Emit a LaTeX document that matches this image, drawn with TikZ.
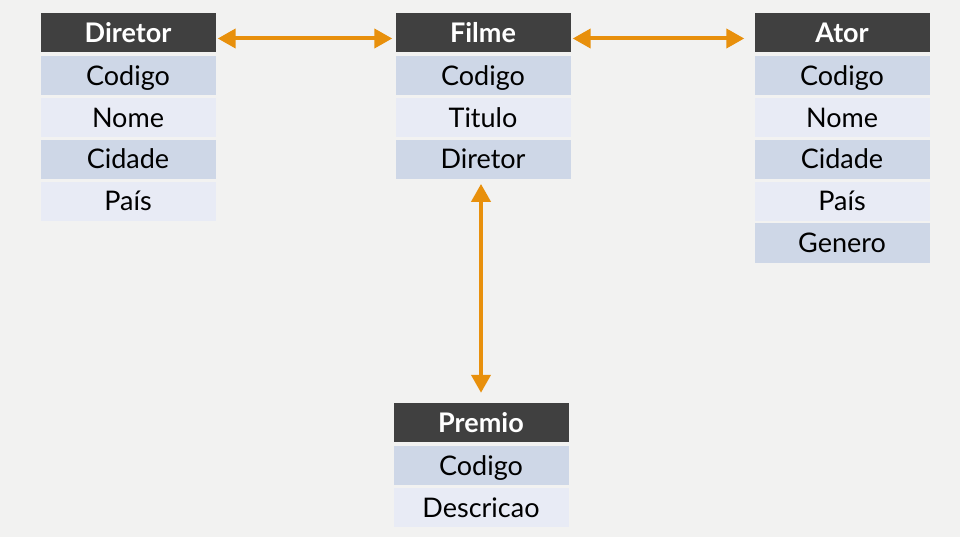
\documentclass[tikz,border=0pt]{standalone}
\usepackage{fontspec}
\setmainfont{Lato}
\usepackage{tikz}
\usetikzlibrary{arrows.meta, positioning}

\definecolor{headgray}{HTML}{404040}
\definecolor{rowdark}{HTML}{CED7E7}
\definecolor{rowlight}{HTML}{E8EBF5}
\definecolor{linkorange}{HTML}{E8900C}
\definecolor{paper}{HTML}{F2F2F1}

\tikzset{
  cell/.style = {minimum width=175pt, minimum height=39pt, inner sep=0pt,
                 text height=19.5pt, text depth=0pt,
                 font=\fontsize{27}{32}\selectfont, text=black},
  head/.style = {cell, fill=headgray, text=white, font=\fontsize{27}{32}\selectfont\bfseries},
  dark/.style = {cell, fill=rowdark},
  light/.style = {cell, fill=rowlight},
  link/.style = {linkorange, line width=4pt,
                 {Triangle[length=18pt,width=19pt]}-{Triangle[length=18pt,width=19pt]}}
}

\begin{document}
\begin{tikzpicture}[x=1pt, y=-1pt]

% Background
\fill [paper] ( 0, 0 ) rectangle ( 960, 537 );
\useasboundingbox ( 0, 0 ) rectangle ( 960, 537 );

% Diretor
\node [head] (dir) at ( 128, 32.5 ) {Diretor};
\node [dark, below=3.5pt of dir] (dir1) {Codigo};
\node [light, below=2.5pt of dir1] (dir2) {Nome};
\node [dark, below=2.5pt of dir2] (dir3) {Cidade};
\node [light, below=2.5pt of dir3] (dir4) {País};

% Filme
\node [head] (fil) at ( 483, 32.5 ) {Filme};
\node [dark, below=3.5pt of fil] (fil1) {Codigo};
\node [light, below=2.5pt of fil1] (fil2) {Titulo};
\node [dark, below=2.5pt of fil2] (fil3) {Diretor};

% Ator
\node [head] (ato) at ( 842, 32.5 ) {Ator};
\node [dark, below=3.5pt of ato] (ato1) {Codigo};
\node [light, below=2.5pt of ato1] (ato2) {Nome};
\node [dark, below=2.5pt of ato2] (ato3) {Cidade};
\node [light, below=2.5pt of ato3] (ato4) {País};
\node [dark, below=2.5pt of ato4] (ato5) {Genero};

% Premio
\node [head] (pre) at ( 481, 422.5 ) {Premio};
\node [dark, below=3.5pt of pre] (pre1) {Codigo};
\node [light, below=2.5pt of pre1] (pre2) {Descricao};

% Links
\draw [link, shorten <=2pt, shorten >=3pt] ([yshift=-6pt]dir.east) -- ([yshift=-6pt]fil.west);
\draw [link, shorten <=2pt, shorten >=10pt] ([yshift=-6pt]fil.east) -- ([yshift=-6pt]ato.west);
\draw [link, shorten <=5pt, shorten >=10pt] (fil3.south -| pre.north) -- (pre.north);

\end{tikzpicture}
\end{document}
